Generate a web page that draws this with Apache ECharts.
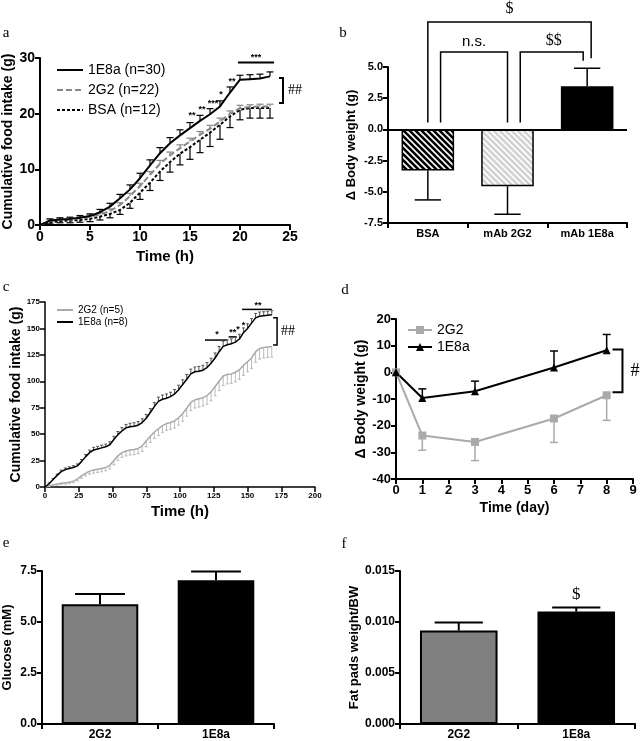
<!DOCTYPE html>
<html lang="en">
<head>
<meta charset="UTF-8">
<title>figure</title>
<script src="https://cdn.jsdelivr.net/npm/echarts@6/dist/echarts.min.js"></script>
<style>
    *{margin:0;padding:0;}
    body{background:#fff;}
    #main{width:640px;height:741px;}
</style>
</head>
<body>
<div id="main"></div>
<script>
// a: cumulative food intake over 24 h
let hoursA = [0,1,2,3,4,5,6,7,8,9,10,11,12,13,14,15,16,17,18,19,20,21,22,23];
let a1E8a = [0,0.8,1.0,1.1,1.3,1.6,2.3,3.3,4.8,6.4,8.4,10.7,12.9,14.7,16.1,17.4,18.7,19.9,21.3,23.8,26.1,26.2,26.3,26.7];
let a1E8aErr = [0,0.3,0.3,0.3,0.4,0.4,0.5,0.6,0.7,0.8,0.9,1.0,1.0,1.0,1.0,1.0,1.0,1.0,1.0,1.0,0.8,0.8,0.8,0.8];
let a2G2 = [0,0.7,0.9,1.0,1.2,1.5,1.9,2.5,3.6,5.2,7.0,9.0,11.0,12.5,13.8,15.0,16.2,17.3,18.6,20.0,21.0,21.2,21.3,21.3];
let a2G2Err = [0,0.2,0.2,0.2,0.3,0.3,0.3,0.4,0.4,0.5,0.5,0.6,0.6,0.6,0.6,0.6,0.6,0.6,0.6,0.5,0.5,0.4,0.4,0.4];
let aBSA = [0,0.5,0.7,0.8,0.9,1.1,1.5,2.0,2.7,4.0,5.8,7.6,9.6,11.3,12.8,14.0,15.3,16.6,18.0,19.5,20.7,21.0,21.0,21.0];
let aBSAErr = [0,0.3,0.3,0.4,0.4,0.5,0.6,0.7,0.8,1.0,1.2,1.4,1.6,1.8,2.0,2.2,2.3,2.5,2.6,2.0,1.8,1.8,1.8,1.8];

// b: body weight change
let groupsB = ['BSA','mAb 2G2','mAb 1E8a'];
let weightB = [-3.3,-4.55,3.45];
let weightBErr = [2.35,2.25,1.45];

// c: cumulative food intake over 7 days
let hoursC = [0,3,6,9,12,15,18,21,24,27,30,33,36,39,42,45,48,51,54,57,60,63,66,69,72,75,78,81,84,87,90,93,96,99,102,105,108,111,114,117,120,123,126,129,132,135,138,141,144,147,150,153,156,159,162,165,168];
let c2G2 = [0,1,2,2.8,3.5,4,4.5,5.5,7.5,10.5,13,15,16,16.8,17.5,18.5,20.5,25,29.5,32.5,34,35,35.5,36.5,39,43.5,48,52,55,58,60,61,62.5,65.5,69.5,74.5,80,82.5,83.5,84.5,86.5,90,95,100,105,106.5,107,108.5,111,115,118.5,122,128,131,132,132.5,133];
let c2G2Err = [0,0.5,0.8,1,1.2,1.3,1.4,1.5,1.8,2.2,2.5,2.8,3,3,3.1,3.2,3.5,4,4.3,4.5,4.6,4.7,4.8,5,5.2,5.5,5.8,6,6.2,6.3,6.4,6.5,6.7,7,7.3,7.5,7.7,7.8,7.9,8,8.2,8.4,8.6,8.8,9,9,9,9.1,9.2,9.4,9.6,9.8,10,10,10,10,10];
let c1E8a = [0,3,7,11,14.5,16.5,17.5,18.5,20,24,28.5,32.5,35,36,37,38,40,45,49.5,53,56,57,57.5,58.5,61,65,70.5,76,81,83,84,85.5,88,92,97,102,107,109,109.5,110.5,113,117,122,128,133,134.5,135.5,137,140,146,150,155,160,161.5,162,162.5,163];
let c1E8aErr = [0,0.8,1,1.2,1.5,1.5,1.6,1.7,1.8,2,2.2,2.4,2.5,2.5,2.6,2.6,2.8,3,3,3.2,3.2,3.3,3.3,3.4,3.5,3.6,3.8,3.8,4,4,4,4.1,4.2,4.3,4.4,4.5,4.5,4.5,4.6,4.6,4.7,4.8,4.8,4.9,5,4.8,4.6,4.5,4.5,4.5,4.4,4.3,4.2,4,3.8,3.8,3.8];

// d: body weight change over days
let daysD = [0,1,3,6,8];
let d2G2 = [0,-23.7,-26.1,-17.3,-8.6];
let d2G2Err = [0,5.5,7,9,9.4];
let d1E8a = [0,-9.6,-7.1,1.8,8.3];
let d1E8aErr = [0,3.4,3.8,6.2,5.9];

// e, f
let groupsEF = ['2G2','1E8a'];
let glucose = [5.87,7.05];
let glucoseErr = [0.5,0.43];
let fatPads = [0.00917,0.01102];
let fatPadsErr = [0.00078,0.00039];

const SANS = 'Liberation Sans, Arial, sans-serif';
const SERIF = 'Liberation Serif, Times New Roman, serif';

function stripes(bg, fg) {
    let c = document.createElement('canvas');
    c.width = 6; c.height = 6;
    let g = c.getContext('2d');
    g.fillStyle = bg; g.fillRect(0, 0, 6, 6);
    g.strokeStyle = fg; g.lineWidth = 1.6;
    g.beginPath();
    g.moveTo(-1, -1); g.lineTo(7, 7);
    g.moveTo(-1, 5); g.lineTo(1, 7);
    g.moveTo(5, -1); g.lineTo(7, 1);
    g.stroke();
    return {image: c, repeat: 'repeat'};
}

// error bar: dir 1 up, -1 down, 0 follows sign of value; cap in px, or band fraction when < 1
function errBars(idx, xs, ys, es, dir, color, lw, cap) {
    return {
        type: 'custom', xAxisIndex: idx, yAxisIndex: idx, silent: true, z: 3,
        data: ys.map((y, i) => [xs[i], y, es[i]]),
        renderItem: function (params, api) {
            let x = api.value(0), y = api.value(1), e = api.value(2);
            if (!e) return;
            let d = dir || (y < 0 ? -1 : 1);
            let p0 = api.coord([x, y]), p1 = api.coord([x, y + d * e]);
            let w = cap < 1 ? api.size([1, 0])[0] * cap : cap;
            let st = {stroke: color, lineWidth: lw};
            return {type: 'group', children: [
                {type: 'line', shape: {x1: p0[0], y1: p0[1], x2: p1[0], y2: p1[1]}, style: st},
                {type: 'line', shape: {x1: p1[0] - w / 2, y1: p1[1], x2: p1[0] + w / 2, y2: p1[1]}, style: st}
            ]};
        }
    };
}

function axisStyle(size, lw) {
    return {
        axisLine: {show: true, onZero: false, lineStyle: {color: '#000', width: lw}},
        axisTick: {show: true, length: 5, lineStyle: {color: '#000', width: lw}},
        axisLabel: {color: '#000', fontSize: size, fontWeight: 'bold', fontFamily: SANS, margin: 5},
        splitLine: {show: false}
    };
}
function nameStyle(size) {
    return {color: '#000', fontSize: size, fontWeight: 'bold', fontFamily: SANS};
}

let pairs = (xs, ys) => ys.map((y, i) => [xs[i], y]);

let chart = echarts.init(document.getElementById('main'));
let option = {
    animation: false,
    backgroundColor: '#fff',
    grid: [
        {left: 40, top: 58, width: 250, height: 167},
        {left: 388, top: 67, width: 239, height: 156},
        {left: 45, top: 302, width: 270, height: 185},
        {left: 396, top: 319, width: 237, height: 160},
        {left: 42, top: 571, width: 232, height: 153},
        {left: 400, top: 571, width: 235, height: 154}
    ],
    xAxis: [
        Object.assign({gridIndex: 0, type: 'value', min: 0, max: 25, interval: 5,
            name: 'Time (h)', nameLocation: 'middle', nameGap: 24, nameTextStyle: nameStyle(15)}, axisStyle(14, 2)),
        Object.assign({gridIndex: 1, type: 'category', data: groupsB, axisTick: {alignWithLabel: true}}, axisStyle(11, 2)),
        Object.assign({gridIndex: 2, type: 'value', min: 0, max: 200, interval: 25,
            name: 'Time (h)', nameLocation: 'middle', nameGap: 17, nameTextStyle: nameStyle(15)}, axisStyle(8, 1.5)),
        Object.assign({gridIndex: 3, type: 'value', min: 0, max: 9, interval: 1,
            name: 'Time (day)', nameLocation: 'middle', nameGap: 22, nameTextStyle: nameStyle(14)}, axisStyle(13, 2)),
        Object.assign({gridIndex: 4, type: 'category', data: groupsEF}, axisStyle(12, 2)),
        Object.assign({gridIndex: 5, type: 'category', data: groupsEF}, axisStyle(12, 2))
    ],
    yAxis: [
        Object.assign({gridIndex: 0, type: 'value', min: 0, max: 30, interval: 10,
            name: 'Cumulative food intake (g)', nameLocation: 'middle', nameGap: 21, nameTextStyle: nameStyle(14)}, axisStyle(14, 2)),
        Object.assign({gridIndex: 1, type: 'value', min: -7.5, max: 5, interval: 2.5,
            name: '\u0394 Body weight (g)', nameLocation: 'middle', nameGap: 30, nameTextStyle: nameStyle(13)}, axisStyle(11, 2)),
        Object.assign({gridIndex: 2, type: 'value', min: 0, max: 175, interval: 25,
            name: 'Cumulative food intake (g)', nameLocation: 'middle', nameGap: 20, nameTextStyle: nameStyle(14)}, axisStyle(8, 1.5)),
        Object.assign({gridIndex: 3, type: 'value', min: -40, max: 20, interval: 10,
            name: '\u0394 Body weight (g)', nameLocation: 'middle', nameGap: 28, nameTextStyle: nameStyle(14)}, axisStyle(13, 2)),
        Object.assign({gridIndex: 4, type: 'value', min: 0, max: 7.5, interval: 2.5,
            name: 'Glucose (mM)', nameLocation: 'middle', nameGap: 28, nameTextStyle: nameStyle(13),
        }, axisStyle(12, 2)),
        Object.assign({gridIndex: 5, type: 'value', min: 0, max: 0.015, interval: 0.005,
            name: 'Fat pads weight/BW', nameLocation: 'middle', nameGap: 33, nameTextStyle: nameStyle(13)}, axisStyle(12, 2))
    ],
    legend: [
        {data: ['1E8a (n=30)', '2G2 (n=22)', 'BSA (n=12)'], orient: 'vertical', left: 56, top: 63, padding: 0,
            itemWidth: 26, itemHeight: 10, itemGap: 6, selectedMode: false, itemStyle: {opacity: 0},
            textStyle: {fontSize: 14, fontFamily: SANS, color: '#000'}},
        {data: ['2G2 (n=5)', '1E8a (n=8)'], orient: 'vertical', left: 56, top: 305, padding: 0,
            itemWidth: 16, itemHeight: 8, itemGap: 2, selectedMode: false, itemStyle: {opacity: 0},
            textStyle: {fontSize: 10, fontFamily: SANS, color: '#000'}},
        {data: ['2G2', '1E8a'], orient: 'vertical', left: 407, top: 323, padding: 0,
            itemWidth: 24, itemHeight: 10, itemGap: 3, selectedMode: false,
            textStyle: {fontSize: 14, fontFamily: SANS, color: '#000'}}
    ],
    series: [
        // a
        {name: 'BSA (n=12)', type: 'line', xAxisIndex: 0, yAxisIndex: 0, symbol: 'none', data: pairs(hoursA, aBSA),
            lineStyle: {color: '#000', width: 2, type: [3, 2]}, itemStyle: {color: '#000'}},
        {name: '2G2 (n=22)', type: 'line', xAxisIndex: 0, yAxisIndex: 0, symbol: 'none', data: pairs(hoursA, a2G2),
            lineStyle: {color: '#888', width: 2, type: [6, 3]}, itemStyle: {color: '#888'}},
        {name: '1E8a (n=30)', type: 'line', xAxisIndex: 0, yAxisIndex: 0, symbol: 'none', data: pairs(hoursA, a1E8a),
            lineStyle: {color: '#000', width: 2}, itemStyle: {color: '#000'}},
        errBars(0, hoursA, aBSA, aBSAErr, -1, '#000', 1.2, 7),
        errBars(0, hoursA, a2G2, a2G2Err, 1, '#888', 1.2, 7),
        errBars(0, hoursA, a1E8a, a1E8aErr, 1, '#000', 1.2, 7),
        // b
        {name: 'dBW', type: 'bar', xAxisIndex: 1, yAxisIndex: 1, barWidth: '66%',
            data: [
                {value: weightB[0], itemStyle: {color: stripes('#000', '#fff')}},
                {value: weightB[1], itemStyle: {color: stripes('#d2d2d2', '#fff')}},
                {value: weightB[2], itemStyle: {color: '#000'}}
            ],
            itemStyle: {borderColor: '#000', borderWidth: 1.5},
            markLine: {silent: true, symbol: ['none', 'none'], label: {show: false},
                lineStyle: {color: '#000', width: 2, type: 'solid'}, data: [{yAxis: 0}]}},
        errBars(1, [0, 1, 2], weightB, weightBErr, 0, '#000', 1.5, 0.33),
        // c
        {name: '2G2 (n=5)', type: 'line', xAxisIndex: 2, yAxisIndex: 2, symbol: 'none', data: pairs(hoursC, c2G2),
            lineStyle: {color: '#aaa', width: 1.5}, itemStyle: {color: '#aaa'}},
        errBars(2, hoursC, c2G2, c2G2Err, -1, '#bbb', 1, 3),
        {name: '1E8a (n=8)', type: 'line', xAxisIndex: 2, yAxisIndex: 2, symbol: 'none', data: pairs(hoursC, c1E8a),
            lineStyle: {color: '#000', width: 1.5}, itemStyle: {color: '#000'}},
        errBars(2, hoursC, c1E8a, c1E8aErr, 1, '#555', 1, 3),
        // d
        {name: '2G2', type: 'line', xAxisIndex: 3, yAxisIndex: 3, symbol: 'rect', symbolSize: 8, data: pairs(daysD, d2G2),
            lineStyle: {color: '#aaa', width: 2}, itemStyle: {color: '#aaa'}},
        errBars(3, daysD, d2G2, d2G2Err, -1, '#aaa', 1.5, 8),
        {name: '1E8a', type: 'line', xAxisIndex: 3, yAxisIndex: 3, symbol: 'triangle', symbolSize: 8, data: pairs(daysD, d1E8a),
            lineStyle: {color: '#000', width: 2}, itemStyle: {color: '#000'}},
        errBars(3, daysD, d1E8a, d1E8aErr, 1, '#000', 1.5, 8),
        // e
        {name: 'glucose', type: 'bar', xAxisIndex: 4, yAxisIndex: 4, barWidth: '66%',
            data: [{value: glucose[0], itemStyle: {color: '#808080'}}, {value: glucose[1], itemStyle: {color: '#000'}}],
            itemStyle: {borderColor: '#000', borderWidth: 2}},
        errBars(4, [0, 1], glucose, glucoseErr, 1, '#000', 2, 0.43),
        // f
        {name: 'fat', type: 'bar', xAxisIndex: 5, yAxisIndex: 5, barWidth: '66%',
            data: [{value: fatPads[0], itemStyle: {color: '#808080'}}, {value: fatPads[1], itemStyle: {color: '#000'}}],
            itemStyle: {borderColor: '#000', borderWidth: 2}},
        errBars(5, [0, 1], fatPads, fatPadsErr, 1, '#000', 2, 0.41)
    ]
};
option.yAxis[5].axisLabel.formatter = v => v.toFixed(3);
option.yAxis[1].axisLabel.formatter = v => v.toFixed(1);
option.yAxis[4].axisLabel.formatter = v => v.toFixed(1);
chart.setOption(option);

// annotations placed from data coordinates
let P = (g, x, y) => chart.convertToPixel({gridIndex: g}, [x, y]);
let gfx = [];
function txt(x, y, s, font, align) {
    gfx.push({type: 'text', silent: true, style: {x: x, y: y, text: s, font: font, fill: '#000',
        align: align || 'center', verticalAlign: 'middle', textAlign: align || 'center', textVerticalAlign: 'middle'}});
}
function poly(pts, lw) {
    gfx.push({type: 'polyline', silent: true, shape: {points: pts}, style: {stroke: '#000', fill: null, lineWidth: lw}});
}

// panel letters
[['a', 6, 33], ['b', 343, 33], ['c', 6, 287], ['d', 345, 290], ['e', 6, 543], ['f', 344, 544]]
    .forEach(l => txt(l[1], l[2], l[0], '15px ' + SERIF));

// a
[[15.2, 19.6, '**'], [16.2, 20.8, '**'], [17.3, 21.9, '***'], [18.1, 23.4, '*'], [19.2, 25.8, '**'], [21.6, 30.0, '***']]
    .forEach(s => { let p = P(0, s[0], s[1]); txt(p[0], p[1], s[2], 'bold 9px ' + SANS); });
poly([P(0, 19.8, 29.2), P(0, 23.4, 29.2)], 2);
(function () {
    let t = P(0, 24.3, 26.4), b = P(0, 24.3, 21.9);
    poly([[t[0] - 4, t[1]], t, b, [b[0] - 4, b[1]]], 2);
    txt(t[0] + 5, (t[1] + b[1]) / 2, '##', '14px ' + SERIF, 'left');
})();

// b brackets (category positions as centre + fraction of band)
(function () {
    let c0 = P(1, 0, 0)[0], band = P(1, 1, 0)[0] - c0;
    let bx = c => c0 + c * band;
    let top = P(1, 0, 8.6)[1], mid = P(1, 0, 6.2)[1], low = P(1, 0, 0.56)[1];
    let xs = [0, 0.16, 1, 1.16, 1.95, 2.05].map(bx);
    poly([[xs[0], low], [xs[0], top], [xs[5], top], [xs[5], P(1, 0, 5.7)[1]]], 1.5);
    poly([[xs[1], low], [xs[1], mid], [xs[2], mid], [xs[2], low]], 1.5);
    poly([[xs[3], low], [xs[3], mid], [xs[4], mid], [xs[4], P(1, 0, 5.5)[1]]], 1.5);
    txt((xs[0] + xs[5]) / 2, top - 13, '$', '16px ' + SERIF);
    txt((xs[1] + xs[2]) / 2, mid - 10, 'n.s.', '15px ' + SANS);
    txt((xs[3] + xs[4]) / 2 + 2, mid - 11, '$$', '16px ' + SERIF);
})();

// c
[[127.4, 143.8, '*'], [139, 146.6, '**'], [143, 149, '*'], [147, 153, '*'], [157.8, 172, '**']]
    .forEach(s => { let p = P(2, s[0], s[1]); txt(p[0], p[1], s[2], 'bold 9px ' + SANS); });
poly([P(2, 118.5, 139), P(2, 134.8, 139)], 1.5);
poly([P(2, 136, 142), P(2, 142, 142)], 1.5);
poly([P(2, 146, 168), P(2, 168, 168)], 1.5);
(function () {
    let t = P(2, 171.9, 160), b = P(2, 171.9, 134.3);
    poly([[t[0] - 4, t[1]], t, b, [b[0] - 4, b[1]]], 1.5);
    txt(t[0] + 4, (t[1] + b[1]) / 2, '##', '14px ' + SERIF, 'left');
})();

// d
(function () {
    let t = P(3, 8.6, 8.6), b = P(3, 8.6, -7.5);
    poly([[t[0] - 10, t[1]], t, b, [b[0] - 10, b[1]]], 2);
    txt(t[0] + 8, (t[1] + b[1]) / 2, '#', '18px ' + SERIF, 'left');
})();

// f
(function () {
    let p = P(5, 1, 0.0127);
    txt(p[0], p[1], '$', '17px ' + SERIF);
})();

chart.setOption({graphic: gfx});
</script>
</body>
</html>
